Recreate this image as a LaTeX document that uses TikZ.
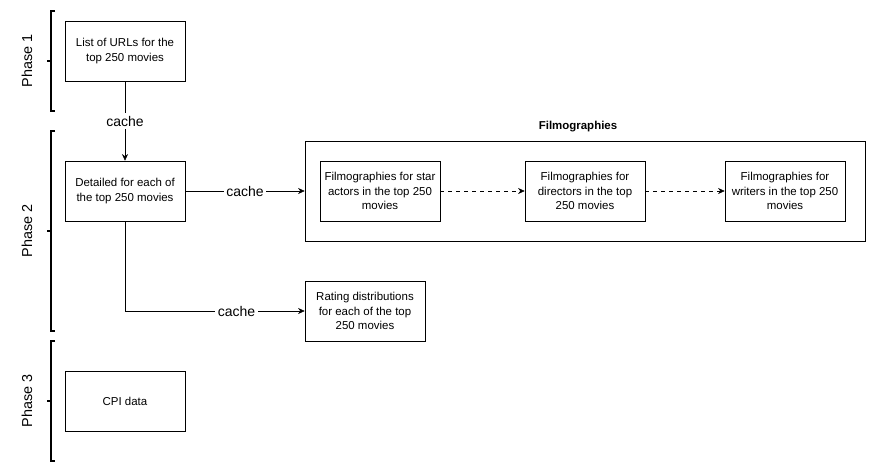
\documentclass[tikz,border=0pt]{standalone}
\usepackage{fontspec}
\setmainfont{Liberation Sans}
\usepackage{tikz}
\usetikzlibrary{arrows.meta}

\begin{document}
\begin{tikzpicture}[x=0.75pt,y=-0.75pt]
    \tikzstyle{stage}=[rectangle, draw, minimum width=90pt, minimum height=45pt, align=center, font=\fontsize{8.6}{11}\selectfont, inner sep=1pt]
    \tikzstyle{group}=[rectangle, draw, minimum width=420pt, minimum height=75pt]
    \tikzstyle{flow}=[-{Stealth[length=5pt,width=4.5pt]}, draw]
    \tikzstyle{follow}=[flow, dashed]
    \tikzstyle{blank}=[rectangle, fill=white, inner sep=2pt, font=\fontsize{10.5}{12}\selectfont]
    \tikzstyle{phase}=[rotate=90, font=\fontsize{10.8}{12}\selectfont]
    \tikzstyle{brace}=[line width=1.4pt]
    \useasboundingbox (0,0) rectangle (886,472);
    % phases
    \draw[brace] (55,11) -- (51,11) -- (51,111) -- (55,111) (51,61) -- (47,61);
    \draw[brace] (55,131) -- (51,131) -- (51,331) -- (55,331) (51,231) -- (47,231);
    \draw[brace] (55,341) -- (51,341) -- (51,461) -- (55,461) (51,401) -- (47,401);
    \node[phase] (p1) at (27,61) {Phase 1};
    \node[phase] (p2) at (27,231) {Phase 2};
    \node[phase] (p3) at (27,401) {Phase 3};
    % boxes
    \node[stage] (urls) at (125,51) {List of URLs for the\\top 250 movies};
    \node[stage] (detail) at (125,191) {Detailed for each of\\the top 250 movies};
    \node[stage] (cpi) at (125,401) {CPI data};
    \node[group] (filmo) at (585,191) {};
    \node[font=\bfseries\fontsize{8.6}{11}\selectfont] (filmotitle) at (578,127) {Filmographies};
    \node[stage] (actors) at (380,191) {Filmographies for star\\actors in the top 250\\movies};
    \node[stage] (directors) at (585,191) {Filmographies for\\directors in the top\\250 movies};
    \node[stage] (writers) at (785,191) {Filmographies for\\writers in the top 250\\movies};
    \node[stage] (rating) at (365,311) {Rating distributions\\for each of the top\\250 movies};
    % edges
    \draw[flow] (urls) -- node[blank] {cache} (detail);
    \draw[flow] (detail) -- node[blank] {cache} (filmo);
    \draw[flow] (detail) |- node[blank,pos=0.81] {cache} (rating);
    \draw[follow] (actors) -- (directors);
    \draw[follow] (directors) -- (writers);
\end{tikzpicture}
\end{document}
